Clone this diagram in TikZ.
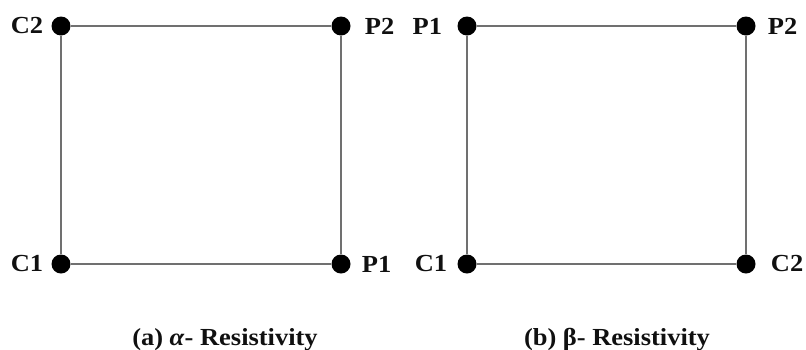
\documentclass[tikz,border=0pt]{standalone}
\usepackage{fontspec}
\setmainfont{Liberation Serif}
\usepackage{xcolor}
\definecolor{cLine}{HTML}{707070}
\definecolor{cDot}{HTML}{000000}
\definecolor{cText}{HTML}{101010}
\usetikzlibrary{positioning}
\newfontfamily\lblfont[FakeStretch=1.08]{Liberation Serif}
\tikzset{
  node-dot/.style={circle,fill=cDot,inner sep=0pt,minimum size=19pt},
  node-lbl/.style={font=\lblfont\fontsize{24.5}{27}\selectfont\bfseries,text=cText,inner sep=0pt},
  node-cap/.style={font=\lblfont\fontsize{24.5}{27}\selectfont\bfseries,text=cText,inner sep=0pt,anchor=base},
  edge-side/.style={draw=cLine,line width=2pt},
}
\begin{document}
\begin{tikzpicture}[x=1pt,y=-1pt]
  \useasboundingbox (0,0) rectangle (806,349);
  % (a) alpha
  \node[node-dot] (aTL) at (61,26) {};
  \node[node-dot] (aTR) at (341,26) {};
  \node[node-dot] (aBL) at (61,264) {};
  \node[node-dot] (aBR) at (341,264) {};
  \draw[edge-side] (aTL) -- (aTR) -- (aBR) -- (aBL) -- (aTL);
  \node[node-lbl,left=8pt of aTL] (aTLl) {C2};
  \node[node-lbl,right=14pt of aTR] (aTRl) {P2};
  \node[node-lbl,left=8pt of aBL] (aBLl) {C1};
  \node[node-lbl,right=11pt of aBR] (aBRl) {P1};
  % (b) beta
  \node[node-dot] (bTL) at (467,26) {};
  \node[node-dot] (bTR) at (746,26) {};
  \node[node-dot] (bBL) at (467,264) {};
  \node[node-dot] (bBR) at (746,264) {};
  \draw[edge-side] (bTL) -- (bTR) -- (bBR) -- (bBL) -- (bTL);
  \node[node-lbl,left=15pt of bTL] (bTLl) {P1};
  \node[node-lbl,right=12pt of bTR] (bTRl) {P2};
  \node[node-lbl,left=10pt of bBL] (bBLl) {C1};
  \node[node-lbl,right=15pt of bBR] (bBRl) {C2};
  % captions
  \node[node-cap] (capA) at (225,345) {(a) \textit{α}- Resistivity};
  \node[node-cap] (capB) at (617,345) {(b) β- Resistivity};
\end{tikzpicture}
\end{document}
